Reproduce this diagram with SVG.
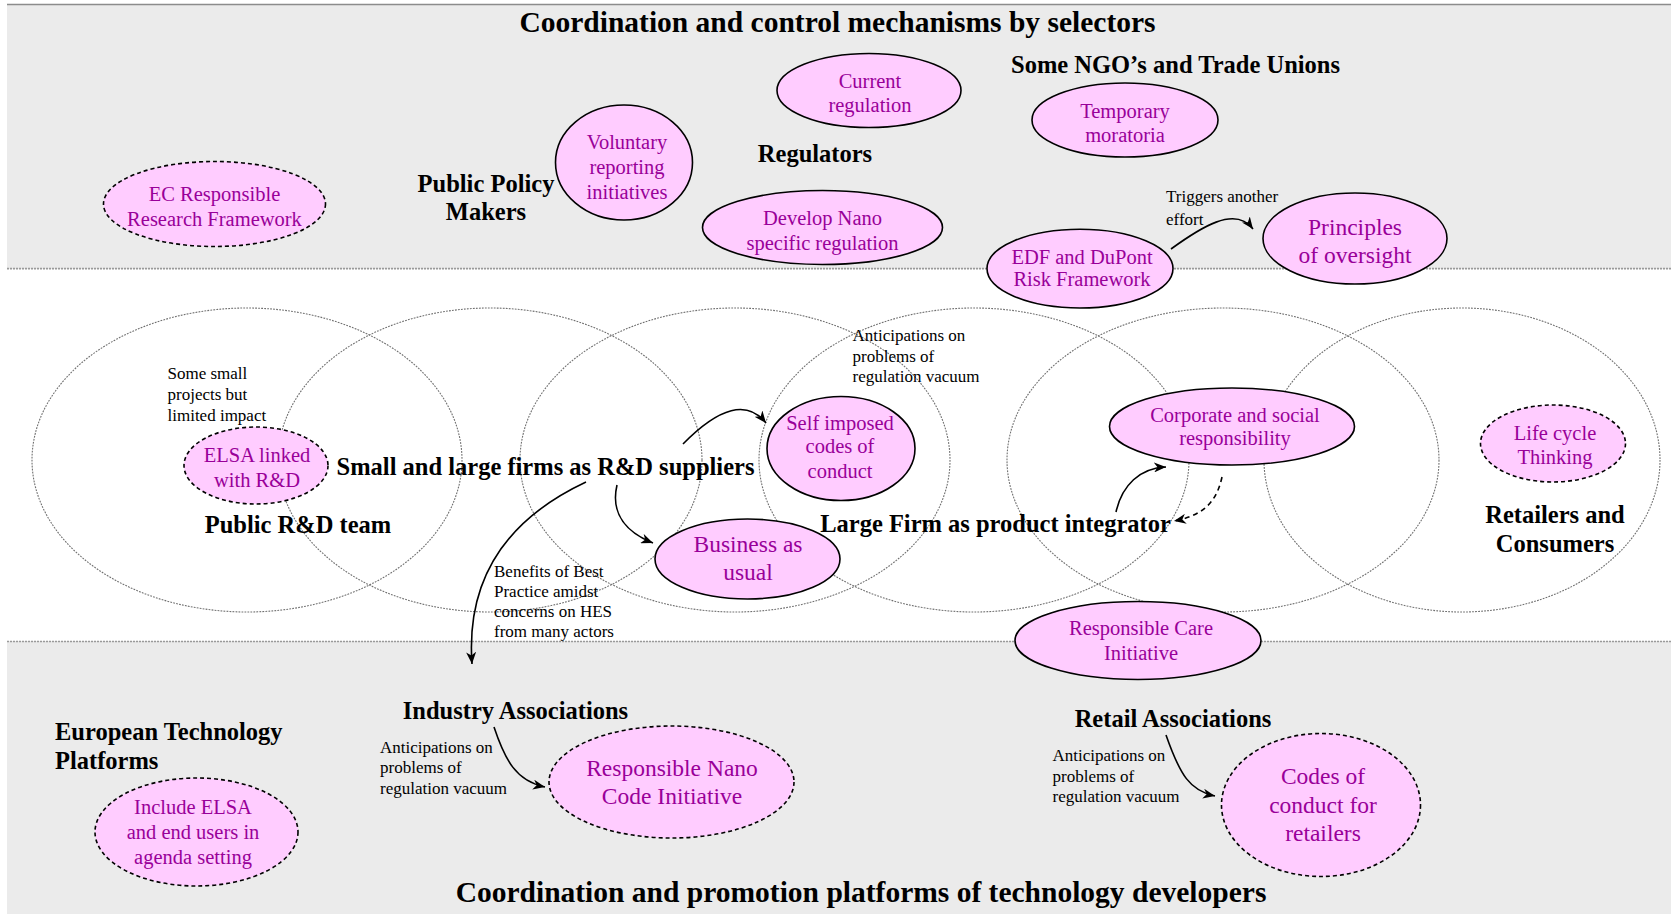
<svg xmlns="http://www.w3.org/2000/svg" width="1671" height="914" viewBox="0 0 1671 914">
<defs>
<style>
.band{fill:#ebebeb}
.edge{stroke:#8c8c8c;stroke-width:1.6;fill:none}
.sep{stroke:#9a9a9a;stroke-width:1.6;stroke-dasharray:2 1;fill:none}
.ring{fill:none;stroke:#707070;stroke-width:1.1;stroke-dasharray:1.8 1.2}
.n{fill:#ffccff;stroke:#000;stroke-width:1.6}
.nd{fill:#ffccff;stroke:#000;stroke-width:1.6;stroke-dasharray:4 3}
text{font-family:"Liberation Serif","Times New Roman",serif}
.t{font-size:20.5px;fill:#990099;text-anchor:middle}
.tl{font-size:23.5px;fill:#990099;text-anchor:middle}
.b{font-size:24.5px;font-weight:bold;fill:#000;text-anchor:middle}
.bl{font-size:24.5px;font-weight:bold;fill:#000}
.a{font-size:17px;fill:#000}
.title{font-size:29.5px;font-weight:bold;fill:#000;text-anchor:middle}
.c{fill:none;stroke:#000;stroke-width:1.6}
.cd{fill:none;stroke:#000;stroke-width:1.6;stroke-dasharray:5 4}
</style>
<marker id="ah" markerUnits="userSpaceOnUse" markerWidth="13" markerHeight="10" refX="12" refY="5" orient="auto">
<path d="M0,0 L12,5 L0,10 L3.5,5 z" fill="#000"/>
</marker>
</defs>

<g id="background">
<rect x="7" y="4" width="1664" height="265" class="band"/>
<rect x="7" y="641" width="1664" height="273" class="band"/>
<rect x="7" y="269" width="1664" height="372" fill="#fff"/>
<line x1="7" y1="4.5" x2="1671" y2="4.5" class="edge"/>
<line x1="7" y1="268.6" x2="1671" y2="268.6" class="sep"/>
<line x1="7" y1="641.5" x2="1671" y2="641.5" class="sep"/>
</g>

<g id="rings">
<ellipse cx="247" cy="460" rx="215" ry="152" class="ring"/>
<ellipse cx="490" cy="460" rx="212" ry="152" class="ring"/>
<ellipse cx="735" cy="460" rx="215" ry="152" class="ring"/>
<ellipse cx="974" cy="460" rx="215" ry="152" class="ring"/>
<ellipse cx="1223" cy="460" rx="216" ry="152" class="ring"/>
<ellipse cx="1462" cy="460" rx="198" ry="152" class="ring"/>
</g>

<g id="titles">
<text x="837.5" y="32" class="title">Coordination and control mechanisms by selectors</text>
<text x="861" y="902" class="title">Coordination and promotion platforms of technology developers</text>
</g>

<g id="labels">
<text x="486" y="192" class="b">Public Policy</text>
<text x="486" y="220" class="b">Makers</text>
<text x="815" y="162" class="b">Regulators</text>
<text x="1175.5" y="73" class="b">Some NGO’s and Trade Unions</text>
<text x="545.5" y="475" class="b">Small and large firms as R&amp;D suppliers</text>
<text x="298" y="533" class="b">Public R&amp;D team</text>
<text x="995.5" y="532" class="b">Large Firm as product integrator</text>
<text x="1555" y="523" class="b">Retailers and</text>
<text x="1555" y="552" class="b">Consumers</text>
<text x="55" y="740" class="bl">European Technology</text>
<text x="55" y="769" class="bl">Platforms</text>
<text x="515.5" y="719" class="b">Industry Associations</text>
<text x="1173" y="727" class="b">Retail Associations</text>
</g>

<g id="annotations">
<text class="a" x="1166" y="202">Triggers another</text>
<text class="a" x="1166" y="225">effort</text>
<text class="a" x="167.5" y="379">Some small</text>
<text class="a" x="167.5" y="400">projects but</text>
<text class="a" x="167.5" y="421">limited impact</text>
<text class="a" x="852.5" y="341">Anticipations on</text>
<text class="a" x="852.5" y="362">problems of</text>
<text class="a" x="852.5" y="382">regulation vacuum</text>
<text class="a" x="494" y="577">Benefits of Best</text>
<text class="a" x="494" y="597">Practice amidst</text>
<text class="a" x="494" y="617">concerns on HES</text>
<text class="a" x="494" y="637">from many actors</text>
<text class="a" x="380" y="753">Anticipations on</text>
<text class="a" x="380" y="773">problems of</text>
<text class="a" x="380" y="794">regulation vacuum</text>
<text class="a" x="1052.5" y="761">Anticipations on</text>
<text class="a" x="1052.5" y="782">problems of</text>
<text class="a" x="1052.5" y="802">regulation vacuum</text>
</g>

<g id="connectors">
<path class="c" d="M1171,249 C1200,228 1235,205 1253,229" marker-end="url(#ah)"/>
<path class="c" d="M683,444 Q738,388 766,423" marker-end="url(#ah)"/>
<path class="c" d="M617,485 C610,515 628,533 653,543" marker-end="url(#ah)"/>
<path class="c" d="M586,482 C505,520 466,580 472,664" marker-end="url(#ah)"/>
<path class="c" d="M1116,512 C1122,485 1140,468 1166,467" marker-end="url(#ah)"/>
<path class="cd" d="M1222,477 C1216,505 1200,516 1174,521" marker-end="url(#ah)"/>
<path class="c" d="M494,727 C505,760 516,781 545,787" marker-end="url(#ah)"/>
<path class="c" d="M1166,735 C1180,775 1190,791 1215,796" marker-end="url(#ah)"/>
</g>

<g id="node-ec-framework">
<ellipse cx="214.5" cy="204" rx="111" ry="42.5" class="nd"/>
<text x="214.5" y="200.5" class="t">EC Responsible</text>
<text x="214.5" y="225.5" class="t">Research Framework</text>
</g>
<g id="node-voluntary">
<ellipse cx="624" cy="162.5" rx="68.5" ry="57.5" class="n"/>
<text x="627" y="148.5" class="t">Voluntary</text>
<text x="627" y="173.5" class="t">reporting</text>
<text x="627" y="198.5" class="t">initiatives</text>
</g>
<g id="node-current-regulation">
<ellipse cx="869" cy="90.5" rx="92" ry="37" class="n"/>
<text x="870" y="87.5" class="t">Current</text>
<text x="870" y="112" class="t">regulation</text>
</g>
<g id="node-develop-nano">
<ellipse cx="822.5" cy="227.5" rx="120" ry="37" class="n"/>
<text x="822.5" y="224.5" class="t">Develop Nano</text>
<text x="822.5" y="249.5" class="t">specific regulation</text>
</g>
<g id="node-moratoria">
<ellipse cx="1125" cy="120" rx="93" ry="37" class="n"/>
<text x="1125" y="117.5" class="t">Temporary</text>
<text x="1125" y="142" class="t">moratoria</text>
</g>
<g id="node-edf">
<ellipse cx="1080" cy="268.6" rx="93" ry="39.4" class="n"/>
<text x="1082" y="264" class="t">EDF and DuPont</text>
<text x="1082" y="286" class="t">Risk Framework</text>
</g>
<g id="node-principles">
<ellipse cx="1355" cy="238.5" rx="92" ry="45.5" class="n"/>
<text x="1355" y="235" class="tl">Principles</text>
<text x="1355" y="263" class="tl">of oversight</text>
</g>

<g id="node-elsa-rd">
<ellipse cx="256" cy="465.5" rx="72" ry="38.5" class="nd"/>
<text x="257" y="461.5" class="t">ELSA linked</text>
<text x="257" y="486.5" class="t">with R&amp;D</text>
</g>
<g id="node-self-imposed">
<ellipse cx="841" cy="448.5" rx="74" ry="52" class="n"/>
<text x="840" y="429.5" class="t">Self imposed</text>
<text x="840" y="453" class="t">codes of</text>
<text x="840" y="478" class="t">conduct</text>
</g>
<g id="node-business">
<ellipse cx="747.5" cy="559" rx="92.5" ry="40" class="n"/>
<text x="748" y="552" class="tl">Business as</text>
<text x="748" y="580" class="tl">usual</text>
</g>
<g id="node-csr">
<ellipse cx="1232" cy="426.5" rx="122.5" ry="38.5" class="n"/>
<text x="1235" y="421.5" class="t">Corporate and social</text>
<text x="1235" y="445" class="t">responsibility</text>
</g>
<g id="node-life-cycle">
<ellipse cx="1553" cy="443.5" rx="72.5" ry="38.5" class="nd"/>
<text x="1555" y="439.5" class="t">Life cycle</text>
<text x="1555" y="463.5" class="t">Thinking</text>
</g>
<g id="node-responsible-care">
<ellipse cx="1138" cy="640.5" rx="123" ry="39" class="n"/>
<text x="1141" y="635" class="t">Responsible Care</text>
<text x="1141" y="660" class="t">Initiative</text>
</g>

<g id="node-include-elsa">
<ellipse cx="196.5" cy="832" rx="101.5" ry="54" class="nd"/>
<text x="193" y="814" class="t">Include ELSA</text>
<text x="193" y="838.5" class="t">and end users in</text>
<text x="193" y="863.5" class="t">agenda setting</text>
</g>
<g id="node-nano-code">
<ellipse cx="671.5" cy="782" rx="122.5" ry="56" class="nd"/>
<text x="672" y="776" class="tl">Responsible Nano</text>
<text x="672" y="804" class="tl">Code Initiative</text>
</g>
<g id="node-retail-codes">
<ellipse cx="1321" cy="805" rx="99.5" ry="71.5" class="nd"/>
<text x="1323" y="784" class="tl">Codes of</text>
<text x="1323" y="813" class="tl">conduct for</text>
<text x="1323" y="841" class="tl">retailers</text>
</g>
</svg>
